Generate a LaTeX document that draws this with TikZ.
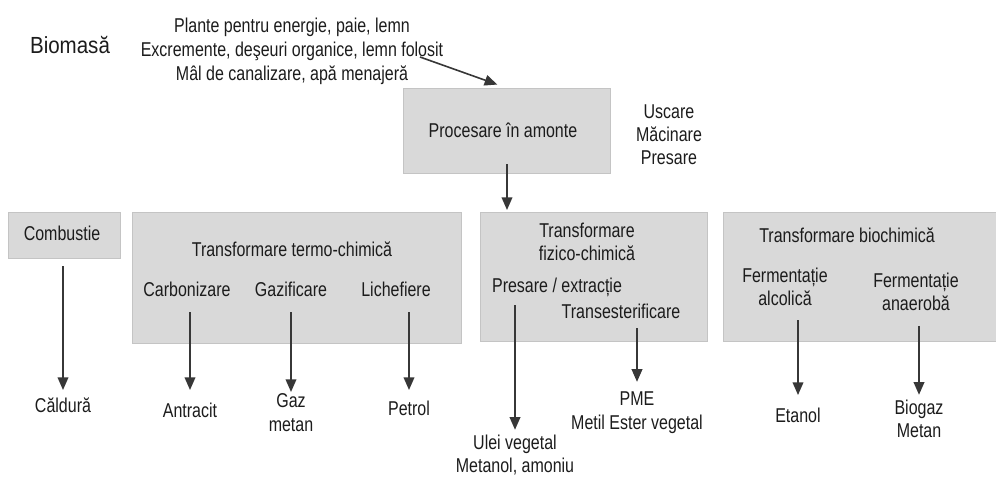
\documentclass[tikz,border=0pt]{standalone}
\usepackage{fontspec}
\setmainfont{Liberation Sans}[FakeStretch=0.80]
\newfontfamily\bigfont{Liberation Sans}[FakeStretch=0.88]
\usetikzlibrary{arrows.meta}

\newcommand{\px}{0.75pt}
\tikzset{every picture/.style={line width=0.75pt},
  box/.style={draw={rgb, 255:red, 196; green, 196; blue, 196}, fill={rgb, 255:red, 217; green, 217; blue, 217}, inner sep=0pt, anchor=north west},
  lbl/.style={inner sep=0.75pt, align=center, text={rgb, 255:red, 28; green, 28; blue, 28}, font=\fontsize{15}{17.5}\selectfont},
  flow/.style={draw={rgb, 255:red, 55; green, 55; blue, 55}, line width=1.2pt, -{Triangle[width=8pt,length=9.5pt]}}
}

\begin{document}
\begin{tikzpicture}[x=0.75pt,y=0.75pt,yscale=-1,xscale=1]
\useasboundingbox (0,0) rectangle (996,476);

%Shape: Rectangle [proc]
\node [box, minimum width=207*\px, minimum height=85*\px] (proc) at (403,88) {};
%Shape: Rectangle [comb]
\node [box, minimum width=112*\px, minimum height=46*\px] (comb) at (8,212) {};
%Shape: Rectangle [termo]
\node [box, minimum width=329*\px, minimum height=131*\px] (termo) at (132,212) {};
%Shape: Rectangle [fiz]
\node [box, minimum width=227*\px, minimum height=129*\px] (fiz) at (480,212) {};
%Shape: Rectangle [bio]
\node [box, minimum width=285*\px, minimum height=129*\px] (bio) at (723,212) {};

% Text Node
\node [lbl, anchor=base, font=\bigfont\fontsize{17.5}{20}\selectfont] (biom) at (70,53) {Biomasă};
% Text Node
\node [lbl, anchor=north, font=\fontsize{15}{18}\selectfont] (inputs) at (292,16.5) {Plante pentru energie, paie, lemn\\Excremente, deşeuri organice, lemn folosit\\Mâl de canalizare, apă menajeră};
% Text Node
\node [lbl, anchor=base] (proctxt) at (503,137) {Procesare în amonte};
% Text Node
\node [lbl, anchor=north, font=\fontsize{15}{17.25}\selectfont] (steps) at (669,103.5) {Uscare\\Măcinare\\Presare};
% Text Node
\node [lbl, anchor=base] (combtxt) at (62,240) {Combustie};
% Text Node
\node [lbl, anchor=base] (termotxt) at (292,256) {Transformare termo-chimică};
\node [lbl, anchor=base] (carb) at (187,296) {Carbonizare};
\node [lbl, anchor=base] (gazi) at (291,296) {Gazificare};
\node [lbl, anchor=base] (lich) at (396,296) {Lichefiere};
% Text Node
\node [lbl, anchor=north] (fiztxt) at (587,221.5) {Transformare\\fizico-chimică};
\node [lbl, anchor=base] (pres) at (557,292) {Presare / extracție};
\node [lbl, anchor=base] (trans) at (621,318) {Transesterificare};
% Text Node
\node [lbl, anchor=base] (biotxt) at (847,242) {Transformare biochimică};
\node [lbl, anchor=north] (ferm1) at (785,266.5) {Fermentație\\alcolică};
\node [lbl, anchor=north] (ferm2) at (916,271) {Fermentație\\anaerobă};

% Text Node (products)
\node [lbl, anchor=base] (cald) at (63,412) {Căldură};
\node [lbl, anchor=base] (antr) at (190,417) {Antracit};
\node [lbl, anchor=north] (gaz) at (291,392.5) {Gaz\\metan};
\node [lbl, anchor=base] (petr) at (409,415) {Petrol};
\node [lbl, anchor=north] (ulei) at (515,433.5) {Ulei vegetal\\Metanol, amoniu};
\node [lbl, anchor=north] (pme) at (637,390.5) {PME\\Metil Ester vegetal};
\node [lbl, anchor=base] (etan) at (798,422) {Etanol};
\node [lbl, anchor=north] (biog) at (919,398.5) {Biogaz\\Metan};

%Straight Lines
\coordinate (inTail) at (420,57);
\draw [flow, shorten >=7.7pt] (inTail) -- (proc.north);
\draw [flow, shorten <=-7.5pt, shorten >=1.5pt] (proc.south) -- (proc.south |- fiz.north);
\draw [flow, shorten <=5.25pt, shorten >=16.5pt] (cald |- comb.south) -- (cald.base);
\draw [flow, shorten <=12pt, shorten >=20.25pt] (antr |- carb.base) -- (antr.base);
\draw [flow, shorten <=12pt, shorten >=0.4pt] (gaz |- gazi.base) -- (gaz.north);
\draw [flow, shorten <=12pt, shorten >=18.75pt] (petr |- lich.base) -- (petr.base);
\draw [flow, shorten <=9.75pt, shorten >=2.8pt] (ulei |- pres.base) -- (ulei.north);
\draw [flow, shorten <=7.5pt, shorten >=6.5pt] (pme |- trans.base) -- (pme.north);
\draw [flow, shorten <=9.5pt, shorten >=20.25pt] (etan |- ferm1.south) -- (etan.base);
\draw [flow, shorten <=10.3pt, shorten >=2.8pt] (biog |- ferm2.south) -- (biog.north);

\end{tikzpicture}
\end{document}
